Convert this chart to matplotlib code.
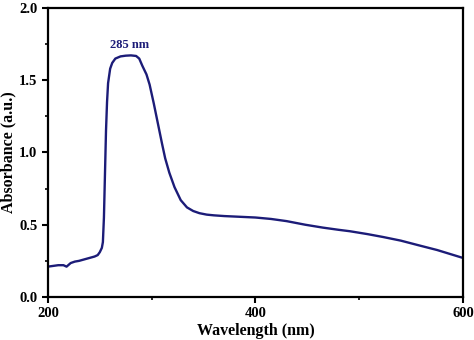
import numpy as np
import matplotlib.pyplot as plt
from matplotlib.ticker import MultipleLocator

# Absorbance spectrum
wavelength = [200, 205, 210, 215, 218, 222, 226, 230, 235, 240, 245, 248, 250, 252,
              253, 254, 255, 256, 257, 258, 260, 262, 265, 270, 275, 280, 285, 288,
              291, 295, 298, 302, 306, 310, 313, 317, 322, 328, 334, 340, 346, 353,
              360, 370, 385, 400, 415, 430, 448, 465, 480, 491, 508, 523, 540, 556,
              575, 600]
absorbance = [0.21, 0.215, 0.22, 0.22, 0.21, 0.235, 0.245, 0.25, 0.26, 0.27, 0.28, 0.29, 0.31, 0.34,
              0.38, 0.55, 0.85, 1.15, 1.35, 1.48, 1.58, 1.62, 1.65, 1.665, 1.67, 1.672, 1.668, 1.65,
              1.60, 1.54, 1.47, 1.34, 1.20, 1.06, 0.96, 0.86, 0.76, 0.67, 0.62, 0.595, 0.58, 0.57,
              0.565, 0.56, 0.555, 0.55, 0.54, 0.525, 0.50, 0.48, 0.465, 0.455, 0.435, 0.415, 0.39, 0.36,
              0.325, 0.27]

plt.rcParams['font.family'] = ['Liberation Serif', 'DejaVu Serif']

fig = plt.figure(figsize=(4.74, 3.40), dpi=100)
ax = fig.add_axes([0.101, 0.1265, 0.876, 0.85])

ax.plot(wavelength, absorbance, color='#1c1c78', lw=1.7)
ax.text(279, 1.72, '285 nm', color='#1c1c78', fontsize=9, fontweight='bold', ha='center')

ax.set_xlim(200, 600)
ax.set_ylim(0, 2.0)
ax.xaxis.set_major_locator(MultipleLocator(200))
ax.xaxis.set_minor_locator(MultipleLocator(100))
ax.yaxis.set_major_locator(MultipleLocator(0.5))
ax.yaxis.set_minor_locator(MultipleLocator(0.25))
ax.tick_params(which='major', direction='out', length=4, width=1.5, labelsize=10.5)
ax.tick_params(which='minor', direction='out', length=2, width=1.2)
for lbl in ax.get_xticklabels() + ax.get_yticklabels():
    lbl.set_fontweight('bold')
for sp in ax.spines.values():
    sp.set_linewidth(1.6)

ax.set_xlabel('Wavelength (nm)', fontsize=11.5, fontweight='bold')
ax.set_ylabel('Absorbance (a.u.)', fontsize=11.5, fontweight='bold')
ax.xaxis.set_label_coords(0.5, -0.09)
ax.yaxis.set_label_coords(-0.075, 0.5)

fig.savefig('out.png', dpi=100)
